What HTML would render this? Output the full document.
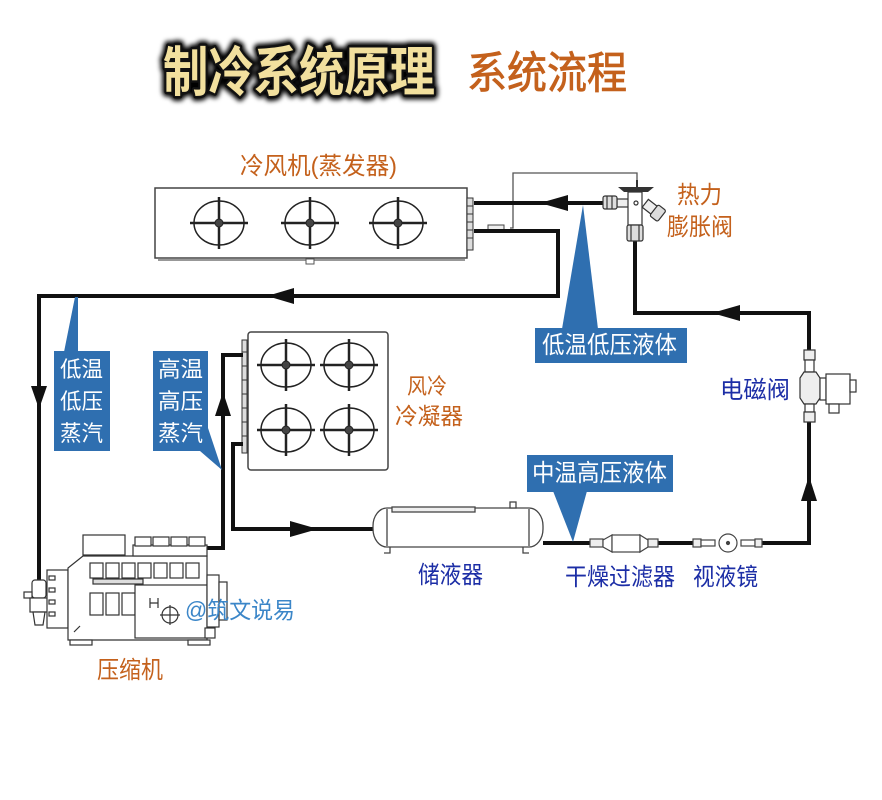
<!DOCTYPE html>
<html><head><meta charset="utf-8"><style>
html,body{margin:0;padding:0;background:#fff;}
svg{display:block;}
text{font-family:"Liberation Sans","Noto Sans CJK SC",sans-serif;}
</style></head><body>
<svg width="882" height="800" viewBox="0 0 882 800" xmlns="http://www.w3.org/2000/svg">
<defs>
<filter id="bl" x="-10%" y="-30%" width="120%" height="160%"><feGaussianBlur stdDeviation="2.5"/></filter>
<g id="fan">
<ellipse cx="0" cy="0" rx="25" ry="22" fill="none" stroke="#222" stroke-width="1.5"/>
<line x1="-29" y1="0" x2="29" y2="0" stroke="#222" stroke-width="2.5"/>
<line x1="0" y1="-26" x2="0" y2="26" stroke="#222" stroke-width="2.5"/>
<circle cx="0" cy="0" r="4" fill="#444" stroke="#222" stroke-width="1"/>
</g>
</defs>
<rect width="882" height="800" fill="#fff"/>

<!-- Title -->
<text x="163" y="91" font-size="54" font-weight="bold" textLength="272" lengthAdjust="spacingAndGlyphs" fill="#000" stroke="#000" stroke-width="10" stroke-linejoin="round" filter="url(#bl)">制冷系统原理</text>
<text x="163" y="91" font-size="54" font-weight="bold" textLength="272" lengthAdjust="spacingAndGlyphs" fill="#f2e09e" stroke="#111" stroke-width="5" stroke-linejoin="round" paint-order="stroke">制冷系统原理</text>
<text x="467" y="88" font-size="44" textLength="160" lengthAdjust="spacingAndGlyphs" fill="#c4611c" stroke="#c4611c" stroke-width="0.8">系统流程</text>

<!-- Evaporator -->
<text x="240" y="174" font-size="24" textLength="157" lengthAdjust="spacingAndGlyphs" fill="#c4611c">冷风机(蒸发器)</text>
<rect x="155" y="188" width="312" height="70" fill="#fff" stroke="#444" stroke-width="1.5"/>
<line x1="158" y1="260" x2="465" y2="260" stroke="#777" stroke-width="1.5"/>
<rect x="306" y="259" width="8" height="5" fill="#fff" stroke="#555" stroke-width="1"/>
<use href="#fan" x="219" y="223"/>
<use href="#fan" x="310" y="223"/>
<use href="#fan" x="398" y="223"/>
<rect x="467" y="198" width="6" height="52" fill="#ddd" stroke="#333" stroke-width="1"/>
<g stroke="#333" stroke-width="1"><line x1="467" y1="206" x2="473" y2="206"/><line x1="467" y1="214" x2="473" y2="214"/><line x1="467" y1="222" x2="473" y2="222"/><line x1="467" y1="230" x2="473" y2="230"/><line x1="467" y1="238" x2="473" y2="238"/></g>

<!-- thin bulb line -->
<polyline points="510,228 513,228 513,173 637,173 637,187" fill="none" stroke="#555" stroke-width="1.3"/>
<rect x="488" y="225" width="16" height="5" fill="#eee" stroke="#444" stroke-width="1"/>

<!-- Condenser -->
<rect x="248" y="332" width="140" height="138" rx="3" fill="#fff" stroke="#444" stroke-width="1.5"/>
<use href="#fan" x="286" y="365"/>
<use href="#fan" x="349" y="365"/>
<use href="#fan" x="286" y="430"/>
<use href="#fan" x="349" y="430"/>
<rect x="242" y="340" width="5" height="113" fill="#ddd" stroke="#333" stroke-width="1"/>
<g stroke="#333" stroke-width="1"><line x1="242" y1="352" x2="247" y2="352"/><line x1="242" y1="366" x2="247" y2="366"/><line x1="242" y1="380" x2="247" y2="380"/><line x1="242" y1="394" x2="247" y2="394"/><line x1="242" y1="408" x2="247" y2="408"/><line x1="242" y1="422" x2="247" y2="422"/><line x1="242" y1="436" x2="247" y2="436"/></g>
<text x="407" y="394" font-size="22" textLength="40" lengthAdjust="spacingAndGlyphs" fill="#c4611c">风冷</text>
<text x="395" y="424" font-size="23" textLength="68" lengthAdjust="spacingAndGlyphs" fill="#c4611c">冷凝器</text>

<!-- Pipes -->
<g fill="none" stroke="#111" stroke-width="4" stroke-linejoin="miter">
<polyline points="474,231 558,231 558,296 39,296 39,580"/>
<polyline points="474,203 605,203"/>
<polyline points="809,352 809,313 635,313 635,241"/>
<polyline points="809,421 809,543 762,543"/>
<polyline points="693,543 658,543"/>
<polyline points="590,543 543,543"/>
<polyline points="243,444 233,444 233,529 373,529"/>
<polyline points="205,548 223,548 223,355 243,355"/>
</g>
<!-- Arrows -->
<g fill="#111">
<polygon points="540,203 568,195 568,211"/>
<polygon points="267,296 294,288 294,304"/>
<polygon points="39,409 31,386 47,386"/>
<polygon points="223,392 215,416 231,416"/>
<polygon points="318,529 290,521 290,537"/>
<polygon points="712,313 740,305 740,321"/>
<polygon points="809,476 801,501 817,501"/>
</g>

<!-- TXV -->
<g stroke="#333" stroke-width="1.2" fill="#fff">
<rect x="617" y="199" width="12" height="8" fill="#eee"/>
<rect x="603" y="196" width="14" height="13" rx="2" fill="#ddd"/>
<line x1="607" y1="196" x2="607" y2="209"/><line x1="612" y1="196" x2="612" y2="209"/>
<rect x="628" y="192" width="14" height="33"/>
<rect x="627" y="225" width="16" height="16" rx="2" fill="#ddd"/>
<line x1="631" y1="225" x2="631" y2="241"/><line x1="639" y1="225" x2="639" y2="241"/>
<g transform="translate(650,207) rotate(38)"><rect x="-6" y="-5" width="12" height="10" fill="#eee"/><rect x="5" y="-7" width="10" height="14" rx="2" fill="#ddd"/></g>
<circle cx="636" cy="203" r="2" fill="#fff"/>
</g>
<polygon points="618,187 654,187 648,192 624,192" fill="#333"/>
<line x1="637" y1="180" x2="637" y2="187" stroke="#333" stroke-width="2"/>
<text x="677" y="203" font-size="24" textLength="45" lengthAdjust="spacingAndGlyphs" fill="#c4611c">热力</text>
<text x="667" y="235" font-size="24" textLength="66" lengthAdjust="spacingAndGlyphs" fill="#c4611c">膨胀阀</text>

<!-- Solenoid valve -->
<g stroke="#333" stroke-width="1.2" fill="#fff">
<rect x="804" y="350" width="11" height="10" fill="#eee"/>
<rect x="805" y="360" width="9" height="12"/>
<path d="M800,378 L804,372 L816,372 L820,378 L820,398 L816,404 L804,404 L800,398 Z" fill="#eee"/>
<rect x="820" y="378" width="6" height="22"/>
<rect x="826" y="374" width="24" height="30"/>
<rect x="850" y="380" width="6" height="12"/>
<rect x="829" y="404" width="10" height="9"/>
<rect x="805" y="404" width="9" height="8"/>
<rect x="804" y="412" width="11" height="10" fill="#eee"/>
</g>
<text x="720" y="398" font-size="24" textLength="70" lengthAdjust="spacingAndGlyphs" fill="#1c2ea6">电磁阀</text>

<!-- Receiver -->
<g stroke="#444" stroke-width="1.3" fill="#fff">
<rect x="373" y="508" width="170" height="39" rx="14" ry="18"/>
<line x1="387" y1="509" x2="387" y2="546"/>
<line x1="529" y1="509" x2="529" y2="546"/>
<rect x="392" y="507" width="83" height="5" fill="#eee"/>
<rect x="510" y="502" width="6" height="6"/>
<polyline points="390,547 390,553 384,553" fill="none"/>
<polyline points="523,547 523,553 529,553" fill="none"/>
</g>
<text x="418" y="583" font-size="24" textLength="65" lengthAdjust="spacingAndGlyphs" fill="#1c2ea6">储液器</text>

<!-- Filter drier -->
<g stroke="#444" stroke-width="1.2" fill="#fff">
<rect x="590" y="539" width="13" height="8" fill="#eee"/>
<polygon points="603,540 612,535 612,552 603,547"/>
<rect x="612" y="535" width="28" height="17"/>
<polygon points="640,535 648,540 648,547 640,552"/>
<rect x="648" y="539" width="10" height="8" fill="#eee"/>
</g>
<!-- Sight glass -->
<g stroke="#444" stroke-width="1.2" fill="#fff">
<rect x="693" y="539" width="8" height="8" fill="#eee"/>
<rect x="701" y="540" width="14" height="6"/>
<rect x="741" y="540" width="14" height="6"/>
<rect x="755" y="539" width="7" height="8" fill="#eee"/>
<circle cx="728" cy="543" r="9"/>
<circle cx="728" cy="543" r="1.5" fill="#444"/>
</g>
<text x="565" y="585" font-size="24" textLength="110" lengthAdjust="spacingAndGlyphs" fill="#1c2ea6">干燥过滤器</text>
<text x="693" y="585" font-size="24" textLength="65" lengthAdjust="spacingAndGlyphs" fill="#1c2ea6">视液镜</text>

<!-- Blue labels -->
<g fill="#2f6fb0">
<polygon points="583,205 598,329 562,329"/>
<rect x="535" y="328" width="152" height="35"/>
<polygon points="553,491 587,491 573,542"/>
<rect x="527" y="455" width="146" height="37"/>
<polygon points="64,352 75,297 78,297 78,352"/>
<rect x="54" y="351" width="56" height="100"/>
<polygon points="200,451 208,428 222,470"/>
<rect x="153" y="351" width="55" height="100"/>
</g>
<g fill="#fff">
<text x="542" y="353" font-size="24" textLength="135" lengthAdjust="spacingAndGlyphs">低温低压液体</text>
<text x="532" y="481" font-size="24" textLength="135" lengthAdjust="spacingAndGlyphs">中温高压液体</text>
<text x="60" y="377" font-size="22" textLength="43" lengthAdjust="spacingAndGlyphs">低温</text>
<text x="60" y="409" font-size="22" textLength="43" lengthAdjust="spacingAndGlyphs">低压</text>
<text x="60" y="441" font-size="22" textLength="43" lengthAdjust="spacingAndGlyphs">蒸汽</text>
<text x="158" y="377" font-size="22" textLength="45" lengthAdjust="spacingAndGlyphs">高温</text>
<text x="158" y="409" font-size="22" textLength="45" lengthAdjust="spacingAndGlyphs">高压</text>
<text x="158" y="441" font-size="22" textLength="45" lengthAdjust="spacingAndGlyphs">蒸汽</text>
</g>

<!-- Compressor -->
<g stroke="#333" stroke-width="1.2" fill="#fff">
<rect x="32" y="580" width="14" height="18" rx="3"/>
<rect x="24" y="592" width="8" height="6"/>
<rect x="30" y="598" width="18" height="14"/>
<polygon points="33,612 45,612 43,625 35,625"/>
<rect x="47" y="570" width="21" height="58"/>
<g fill="#fff"><rect x="49" y="576" width="6" height="4"/><rect x="49" y="588" width="6" height="4"/><rect x="49" y="600" width="6" height="4"/><rect x="49" y="612" width="6" height="4"/></g>
<path d="M68,568 L83,556 L207,556 L207,640 L68,640 Z"/>
<rect x="83" y="535" width="42" height="20"/>
<rect x="133" y="545" width="74" height="11"/>
<rect x="135" y="537" width="16" height="9"/>
<rect x="153" y="537" width="16" height="9"/>
<rect x="171" y="537" width="16" height="9"/>
<rect x="189" y="537" width="16" height="9"/>
<rect x="90" y="563" width="13" height="15"/>
<rect x="106" y="563" width="13" height="15"/>
<rect x="122" y="563" width="13" height="15"/>
<rect x="138" y="563" width="13" height="15"/>
<rect x="154" y="563" width="13" height="15"/>
<rect x="170" y="563" width="13" height="15"/>
<rect x="186" y="563" width="13" height="15"/>
<rect x="93" y="579" width="50" height="5" fill="#ddd"/>
<rect x="90" y="593" width="13" height="22"/>
<rect x="106" y="593" width="13" height="22"/>
<rect x="122" y="593" width="13" height="22"/>
<rect x="135" y="585" width="72" height="53"/>
<rect x="207" y="575" width="12" height="52"/>
<rect x="219" y="582" width="8" height="38"/>
<rect x="205" y="628" width="10" height="10"/>
<rect x="70" y="640" width="22" height="5"/>
<rect x="188" y="640" width="22" height="5"/>
<circle cx="170" cy="615" r="8"/>
<line x1="160" y1="615" x2="180" y2="615"/>
<line x1="170" y1="605" x2="170" y2="625"/>
<path d="M150,598 L150,608 M158,598 L158,608 M150,603 L158,603" fill="none"/>
<path d="M74,632 L80,626" fill="none"/>
</g>
<text x="97" y="678" font-size="24" textLength="66" lengthAdjust="spacingAndGlyphs" fill="#c4611c">压缩机</text>
<text x="185" y="618" font-size="23" textLength="110" lengthAdjust="spacingAndGlyphs" fill="#3b86c8">@筑文说易</text>
</svg>
</body></html>
